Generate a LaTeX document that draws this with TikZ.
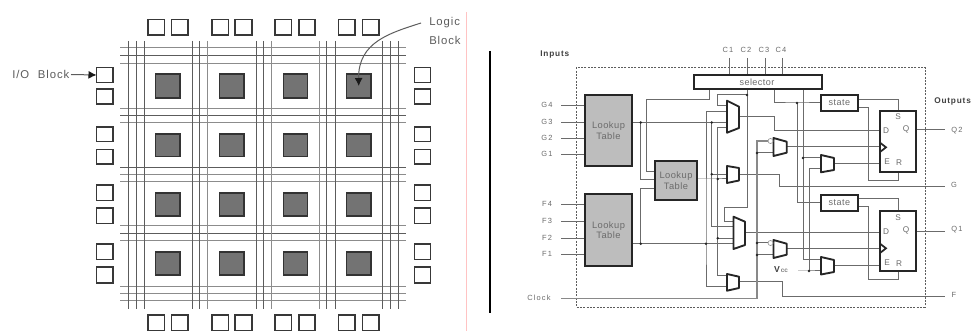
\documentclass[tikz,border=0pt]{standalone}
\usepackage{fontspec}
\setmainfont{Liberation Sans}
\newfontfamily\spacedA[LetterSpace=8]{Liberation Sans}
\newfontfamily\spacedB[LetterSpace=5]{Liberation Sans}
\newfontfamily\spacedC[LetterSpace=15]{Liberation Sans}
\newfontfamily\spacedD[LetterSpace=10]{Liberation Sans}
\usetikzlibrary{arrows.meta}
\definecolor{wirecol}{gray}{0.42}
\definecolor{gridA}{gray}{0.36}
\definecolor{gridB}{gray}{0.55}
\definecolor{txtcol}{gray}{0.42}
\definecolor{lutfill}{gray}{0.74}
\definecolor{corefill}{gray}{0.45}
\definecolor{corebord}{gray}{0.2}
\definecolor{iobord}{gray}{0.22}
\definecolor{pinkline}{RGB}{255,195,195}
\newcommand{\boxnode}[7][]{%
  \pgfmathsetmacro{\bxw}{(#5-#3)*0.75}\pgfmathsetmacro{\bxh}{(#6-#4)*0.75}%
  \node[#2,minimum width=\bxw pt,minimum height=\bxh pt,#1] (#7) at ({(#3+#5)/2},{(#4+#6)/2}) {};}
\newcommand{\muxshape}[6]{%
  \draw[muxline] (#1,#3) -- (#2,#5) -- (#2,#6) -- (#1,#4) -- cycle;}
\tikzset{
  wire/.style={draw=wirecol,line width=0.75pt},
  gridline/.style={line width=0.75pt},
  iobox/.style={draw=iobord,fill=white,line width=1.1pt,inner sep=0pt,outer sep=0pt},
  corebox/.style={draw=corebord,fill=corefill,line width=1.4pt,inner sep=0pt,outer sep=0pt},
  lutbox/.style={draw=black!85,fill=lutfill,line width=1.5pt,inner sep=0pt,outer sep=0pt,text=txtcol,align=center,font=\spacedB\fontsize{7}{8}\selectfont},
  statebox/.style={draw=black!85,fill=white,line width=1.5pt,inner sep=0pt,outer sep=0pt,text=txtcol,font=\spacedB\fontsize{6.8}{8}\selectfont},
  ffbox/.style={draw=black!85,fill=white,line width=1.5pt,inner sep=0pt,outer sep=0pt},
  muxline/.style={draw=black!85,fill=white,line width=1.4pt,line join=round},
  lbl/.style={text=txtcol,inner sep=0pt,font=\spacedC\fontsize{5.6}{6}\selectfont},
  ffl/.style={text=txtcol,inner sep=0pt,font=\fontsize{6.2}{7}\selectfont},
  toplbl/.style={text=gridA,inner sep=0pt,font=\spacedA\fontsize{8.5}{9}\selectfont},
  headlbl/.style={text=black!75,inner sep=0pt,font=\spacedD\bfseries\fontsize{6.2}{7}\selectfont},
  jdot/.style={fill=black!85,draw=none},
  pointer/.style={draw=gridA,line width=0.75pt,-{Latex[black!90,length=6pt,width=6pt]}}
}
\begin{document}
\begin{tikzpicture}[x=0.75pt,y=-0.75pt]
\useasboundingbox (0,0) rectangle (974,331);
\fill[white] (0,0) rectangle (974,331);
% ---------- left part: routing grid
\foreach \n/\y/\c in {a/48/gridB,b/56/gridA,c/63.5/gridB,d/108.5/gridB,e/115.5/gridA,f/123/gridB,g/167.5/gridA,h/175/gridB,i/182/gridB,j/226/gridB,k/234/gridA,l/241/gridB,m/286/gridB,n/293.5/gridB,o/300.5/gridB}{
  \coordinate (hl\n) at (120,\y); \coordinate (hr\n) at (406,\y);
  \draw[gridline,draw=\c] (hl\n) -- (hr\n);
}
\foreach \n/\x/\c in {a/128.5/gridA,b/136.5/gridA,c/144/gridA,d/192/gridA,e/199/gridA,f/207/gridB,g/256/gridA,h/263/gridA,i/271/gridB,j/319/gridB,k/326.5/gridA,l/335/gridA,m/382/gridA,n/390/gridA,o/398/gridA}{
  \coordinate (vt\n) at (\x,41); \coordinate (vb\n) at (\x,309);
  \draw[gridline,draw=\c] (vt\n) -- (vb\n);
}
% logic blocks
\foreach \r/\ya/\yb in {1/74/98,2/134/156.5,3/193/216,4/252/275}{
  \foreach \c/\xa/\xb in {1/155.5/180,2/219.5/244,3/283.5/307.5,4/346.5/371}{
    \boxnode{corebox}{\xa}{\ya}{\xb}{\yb}{core\r\c}
  }
}
% I/O blocks
\foreach \c/\xa/\xb in {1/148/164.5,2/171.5/188,3/212/228.5,4/235/252,5/275/291.5,6/299/315,7/338.5/355,8/362.5/379}{
  \boxnode{iobox}{\xa}{19.5}{\xb}{35}{iot\c}
  \boxnode{iobox}{\xa}{315}{\xb}{330.5}{iob\c}
}
\foreach \c/\ya/\yb in {1/67.5/82.5,2/89/104,3/127/141.5,4/149.5/164,5/185/200.5,6/208/223.5,7/244/259.5,8/267/283}{
  \boxnode{iobox}{96.5}{\ya}{113}{\yb}{iol\c}
  \boxnode{iobox}{414.5}{\ya}{430.5}{\yb}{ior\c}
}
\node[toplbl,anchor=west] (iolabel) at (12,74.5) {I/O\hspace{3.5pt} Block};
\coordinate (iostart) at (71,74.5);
\draw[pointer] (iostart) -- (iol1.west);
\node[toplbl,anchor=west] (logic) at (429,23) {Logic};
\node[toplbl,anchor=west] (block) at (429,40) {Block};
\coordinate (logicstart) at (421,23);
\draw[pointer] (logicstart) .. controls (390,33) and (358,42) .. (core14.center);
% separators
\coordinate (pk1) at (466,12); \coordinate (pk2) at (466,331);
\draw[pinkline,line width=0.75pt] (pk1) -- (pk2);
\coordinate (bk1) at (490,51); \coordinate (bk2) at (490,313);
\draw[black,line width=1.1pt] (bk1) -- (bk2);
% ---------- right part
\node[headlbl,anchor=west] (inputs) at (540,54.5) {Inputs};
\node[headlbl,anchor=west] (outputs) at (934,101) {Outputs};
\draw[gridA,line width=0.7pt,dash pattern=on 1.5pt off 1pt] (576,67.5) rectangle (925,307);
% C inputs
\foreach \n/\x in {1/729,2/747,3/765,4/782}{
  \node[lbl] (c\n) at (\x-1,50) {C\n};
  \coordinate (cs\n) at (\x,58);
  \coordinate (ce\n) at (\x,75);
  \draw[wire] (cs\n) -- (ce\n);
}
% wires first, boxes on top
\foreach \n/\y/\t in {1/106/G4,2/122.5/G3,3/139/G2,4/155/G1,5/205/F4,6/222/F3,7/238.5/F2,8/255/F1}{
  \node[lbl] (in\n) at (547,\y-1) {\t};
  \coordinate (is\n) at (561,\y); \coordinate (ie\n) at (586,\y);
  \draw[wire] (is\n) -- (ie\n);
}
\coordinate (selOut) at (709,89);
\coordinate (lutInA) at (655,171.5);
\coordinate (lutInB) at (655,180);
\coordinate (lutInC) at (655,189);
\coordinate (jA) at (640.7,122.5);
\coordinate (jB) at (640.7,243.7);
\coordinate (jC) at (711.7,122.5);
\coordinate (jD) at (706,243.7);
\coordinate (jE) at (747,95);
\coordinate (jF) at (711.7,174.3);
\coordinate (jG) at (717.7,179);
\coordinate (jH) at (717.7,238.3);
\draw[wire] (selOut) -- (709,100) -- (646,100) -- (646,171.5) -- (lutInA);
\draw[wire] (jA) -- (640.7,180) -- (lutInB);
\draw[wire] (jB) -- (640.7,189) -- (lutInC);
\draw[wire] (632,122.5) -- (jA) -- (jC) -- (727,122.5);
\draw[wire] (632,243.7) -- (jB) -- (jD) -- (734,243.7);
\draw[wire] (747,89) -- (jE) -- (747,208) -- (724,208) -- (724,221.7) -- (734,221.7);
\draw[wire] (jE) -- (717.7,95) -- (717.7,105.7) -- (727,105.7);
\draw[wire] (727,111.7) -- (706,111.7) -- (jD) -- (706,286.7) -- (727,286.7);
\draw[wire] (727,128) -- (717.7,128) -- (jG) -- (jH) -- (717.7,276) -- (727,276);
\draw[wire] (jC) -- (jF) -- (711.7,226.7) -- (734,226.7);
\draw[wire] (jF) -- (727,174.3);
\draw[wire] (697,179) -- (jG) -- (727,179);
\draw[wire] (jH) -- (734,238.3);
% mux outputs
\draw[wire] (739,116.7) -- (774,116.7) -- (774,130.7) -- (880,130.7);
\draw[wire] (739,175) -- (779,175) -- (779,186.7) -- (945,186.7);
\draw[wire] (745,232.7) -- (880,232.7);
\draw[wire] (739,281.7) -- (782,281.7) -- (782,296) -- (945,296);
% clock
\coordinate (jI) at (757,153);
\coordinate (jJ) at (757,243);
\coordinate (jK) at (757,255);
\node[lbl] (clock) at (539,298) {Clock};
\coordinate (clk) at (561,298.5);
\draw[wire,line width=0.9pt,draw=wirecol!80] (clk) -- (757,298.5) -- (jK) -- (jJ) -- (jI) -- (757,141) -- (773,141);
\draw[wire] (jI) -- (773,153);
\draw[wire] (jJ) -- (773,243);
\draw[wire] (jK) -- (773,255);
% selector to state
\coordinate (jL) at (797,103);
\draw[wire] (774,89) -- (774,103) -- (jL) -- (821,103);
\draw[wire] (jL) -- (797,203) -- (821,203);
\coordinate (jM) at (803,158);
\draw[wire] (803,89) -- (jM) -- (803,260) -- (821,260);
\draw[wire] (jM) -- (821,158);
\coordinate (jN) at (809,271);
\draw[wire] (821,169) -- (809,169) -- (jN);
\node[inner sep=0pt,font=\bfseries\fontsize{6.5}{7}\selectfont,text=black!75] (vcc) at (781,270) {V\textcolor{gray}{\fontsize{4.8}{6}\selectfont\,cc}};
\coordinate (vccs) at (798,271);
\draw[wire] (vccs) -- (jN) -- (821,271);
% mux A/B outputs
\draw[wire] (786.7,147) -- (880,147);
\draw[wire] (786.7,249) -- (880,249);
\draw[wire] (834,164) -- (880,164);
\draw[wire] (834,266) -- (880,266);
% state outputs
\draw[wire] (857.7,99.3) -- (898,99.3) -- (898,111);
\draw[wire] (857.7,107.7) -- (868,107.7) -- (868,180.7) -- (898,180.7) -- (898,172);
\draw[wire] (857.7,199) -- (898,199) -- (898,211);
\draw[wire] (857.7,206.7) -- (868,206.7) -- (868,280) -- (898,280) -- (898,271);
% outputs
\draw[wire] (916,130) -- (945,130);
\draw[wire] (916,232) -- (945,232);
\node[lbl] (q2) at (957,131) {Q2};
\node[lbl] (q1) at (957,230) {Q1};
\node[lbl] (go) at (954,185) {G};
\node[lbl] (fo) at (954,295) {F};
% boxes
\boxnode{lutbox}{585}{95}{632}{166.5}{lutA}
\node[lutbox,draw=none,fill=none] (lutAt) at (lutA.center) {Lookup\\Table};
\boxnode{lutbox}{655}{161}{697}{200.5}{lutB}
\node[lutbox,draw=none,fill=none] (lutBt) at (lutB.center) {Lookup\\Table};
\boxnode{lutbox}{585}{194}{632}{266}{lutC}
\node[lutbox,draw=none,fill=none] (lutCt) at (lutC.center) {Lookup\\Table};
\boxnode{statebox}{693.5}{75}{822}{89}{sel}
\node[statebox,draw=none,fill=none] (selt) at (757,82.5) {selector};
\boxnode{statebox}{821}{95}{857.7}{111}{st1}
\node[statebox,draw=none,fill=none] (st1t) at (st1.center) {state};
\boxnode{statebox}{821}{195}{857.7}{211}{st2}
\node[statebox,draw=none,fill=none] (st2t) at (st2.center) {state};
\boxnode{ffbox}{880}{111}{916}{172.5}{ffA}
\boxnode{ffbox}{880}{211}{916}{271}{ffB}
\foreach \s/\dy in {A/0,B/101}{
  \node[ffl] (s\s) at (898,117+\dy) {S};
  \node[ffl] (q\s) at (906,129+\dy) {Q};
  \node[ffl] (d\s) at (886,131+\dy) {D};
  \node[ffl] (e\s) at (887,162+\dy) {E};
  \node[ffl] (r\s) at (899,163+\dy) {R};
  \draw[black!85,line width=1.3pt,line join=miter] (880,142.7+\dy) -- (886,147.3+\dy) -- (880,152+\dy);
}
% muxes
\muxshape{727}{739}{100.7}{132.7}{106.7}{128}
\muxshape{727}{739}{166}{183}{168}{180.5}
\muxshape{733.5}{745}{216.7}{249}{221.7}{245}
\muxshape{727}{739}{274}{290.7}{276.7}{288}
\muxshape{773.5}{786.7}{138}{156}{141.7}{152.7}
\muxshape{773.5}{786.7}{240}{258}{243.7}{254.7}
\muxshape{821}{834}{155}{172.3}{158}{170}
\muxshape{821}{834}{257}{274.5}{260}{272}
% inverting bubbles
\draw[wirecol!70,fill=white,line width=0.5pt] (770.5,141) circle[radius=2.5];
\draw[wirecol!70,fill=white,line width=0.5pt] (770.5,243) circle[radius=2.5];
% junction dots
\foreach \j in {jA,jB,jC,jD,jE,jF,jG,jH,jI,jJ,jK,jL,jM,jN}{\fill[jdot] (\j) circle[radius=1.4];}
\end{tikzpicture}
\end{document}
